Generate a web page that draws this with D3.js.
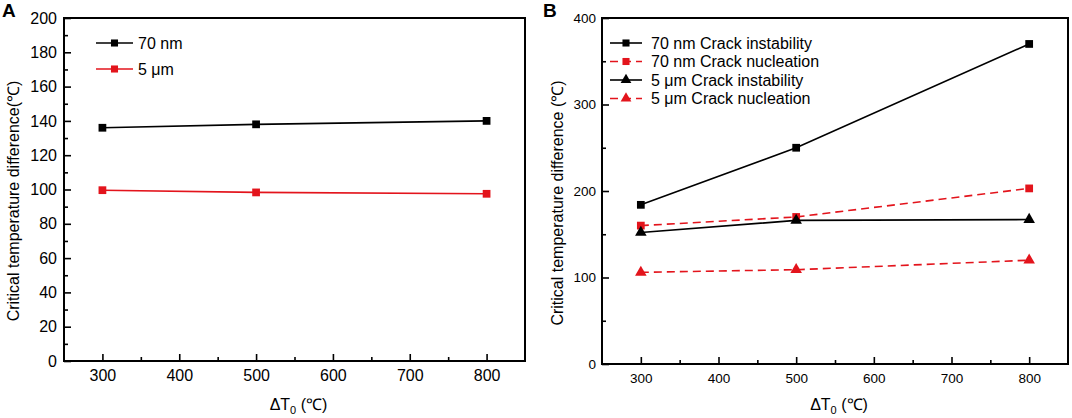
<!DOCTYPE html>
<html>
<head>
<meta charset="utf-8">
<script src="https://cdn.jsdelivr.net/npm/d3@7"></script>
<style>
  body { margin: 0; background: #fff; }
  svg { display: block; }
  text { font-family: Arial, "Liberation Sans", sans-serif; fill: #000; }
</style>
</head>
<body>
<div id="chart"></div>
<script>
// x positions shared by both panels
const deltaT0 = [300, 500, 800]
const xTicks = [300, 400, 500, 600, 700, 800]

// panel A
const a70nm = [136, 138, 140]
const a5um = [99.6, 98.3, 97.5]
const aYTicks = [0, 20, 40, 60, 80, 100, 120, 140, 160, 180, 200]

// panel B
const b70nmInstability = [184, 250, 370]
const b70nmNucleation = [160, 170, 203]
const b5umInstability = [152, 166, 167]
const b5umNucleation = [106, 109, 120]
const bYTicks = [0, 100, 200, 300, 400]

const RED = '#e3141c'
const BLACK = '#000'

const svg = d3.select('#chart')
    .append('svg')
    .attr('width', 1072)
    .attr('height', 418)
    .attr('viewBox', '0 0 1072 418')
    .attr('xmlns', 'http://www.w3.org/2000/svg')

function drawPanel(cfg) {
    const x = d3.scaleLinear().domain([250, 850]).range([cfg.left, cfg.right])
    const y = d3.scaleLinear().domain(cfg.yDomain).range([cfg.bottom, cfg.top])
    const g = svg.append('g')

    // minor ticks
    const xMinor = d3.range(250, 851, 50).filter(v => v % 100 !== 0 && v > 250 && v < 850)
    g.append('g')
        .attr('transform', `translate(0,${cfg.bottom})`)
        .call(d3.axisBottom(x).tickValues(xMinor).tickSize(-4).tickFormat(''))
        .call(s => s.select('.domain').remove())
        .selectAll('line').attr('stroke-width', 1.6)
    g.append('g')
        .attr('transform', `translate(${cfg.left},0)`)
        .call(d3.axisLeft(y).tickValues(cfg.yMinor).tickSize(-4).tickFormat(''))
        .call(s => s.select('.domain').remove())
        .selectAll('line').attr('stroke-width', 1.6)

    // major ticks
    const xAxis = g.append('g')
        .attr('transform', `translate(0,${cfg.bottom})`)
        .call(d3.axisBottom(x).tickValues(xTicks).tickSize(-7).tickPadding(9))
        .call(s => s.select('.domain').remove())
    xAxis.selectAll('line').attr('stroke-width', 1.6)
    xAxis.selectAll('text').style('font-size', cfg.tickFont + 'px').attr('fill', '#000')

    const yAxis = g.append('g')
        .attr('transform', `translate(${cfg.left},0)`)
        .call(d3.axisLeft(y).tickValues(cfg.yTicks).tickSize(-7).tickPadding(cfg.yPad))
        .call(s => s.select('.domain').remove())
    yAxis.selectAll('line').attr('stroke-width', 1.6)
    yAxis.selectAll('text').style('font-size', cfg.tickFont + 'px').attr('fill', '#000')

    // frame
    g.append('rect')
        .attr('x', cfg.left).attr('y', cfg.top)
        .attr('width', cfg.right - cfg.left).attr('height', cfg.bottom - cfg.top)
        .attr('fill', 'none').attr('stroke', '#000').attr('stroke-width', 2)

    // series
    const line = d3.line().x((d, i) => x(deltaT0[i])).y(d => y(d))
    cfg.series.forEach(s => {
        g.append('path')
            .datum(s.values)
            .attr('d', line)
            .attr('fill', 'none')
            .attr('stroke', s.color)
            .attr('stroke-width', 1.6)
            .attr('stroke-dasharray', s.dashed ? '8,5' : null)
        g.selectAll(null)
            .data(s.values)
            .enter()
            .append('path')
            .attr('d', d3.symbol().type(s.shape).size(s.shape === d3.symbolTriangle ? 58 : 60))
            .attr('transform', (d, i) => `translate(${x(deltaT0[i])},${y(d)})`)
            .attr('fill', s.color)
    })

    // legend
    const lg = g.append('g')
    cfg.series.forEach((s, i) => {
        const ly = cfg.legend.y + i * cfg.legend.step
        lg.append('line')
            .attr('x1', cfg.legend.x1).attr('x2', cfg.legend.x2)
            .attr('y1', ly).attr('y2', ly)
            .attr('stroke', s.color).attr('stroke-width', 1.6)
            .attr('stroke-dasharray', s.dashed ? '8,5' : null)
        lg.append('path')
            .attr('d', d3.symbol().type(s.shape).size(s.shape === d3.symbolTriangle ? 50 : 50))
            .attr('transform', `translate(${(cfg.legend.x1 + cfg.legend.x2) / 2},${ly})`)
            .attr('fill', s.color)
        lg.append('text')
            .attr('x', cfg.legend.tx).attr('y', ly).attr('dy', '0.36em')
            .style('font-size', '16px')
            .text(s.name)
    })

    // axis titles
    const xt = g.append('text')
        .attr('x', (cfg.left + cfg.right) / 2 + 4).attr('y', 410)
        .attr('text-anchor', 'middle')
        .style('font-size', '16px')
    xt.append('tspan').text('ΔT')
    xt.append('tspan').attr('dy', 4).style('font-size', '11px').text('0')
    xt.append('tspan').attr('dy', -4).text(' (℃)')

    g.append('text')
        .attr('transform', `translate(${cfg.yTitleX},${cfg.yTitleY}) rotate(-90)`)
        .attr('text-anchor', 'middle')
        .style('font-size', '16px')
        .text(cfg.yTitle)

    g.append('text')
        .attr('x', cfg.labelX).attr('y', 17)
        .style('font-size', '19px').style('font-weight', 'bold')
        .text(cfg.label)
}

drawPanel({
    label: 'A', labelX: 2,
    left: 64, right: 525, top: 18, bottom: 361,
    yDomain: [0, 200], yTicks: aYTicks, yMinor: d3.range(10, 200, 20),
    tickFont: 16, yPad: 7,
    yTitle: 'Critical temperature difference(℃)', yTitleX: 19, yTitleY: 201,
    legend: { x1: 96, x2: 133, tx: 138, y: 43, step: 26 },
    series: [
        { name: '70 nm', values: a70nm, color: BLACK, shape: d3.symbolSquare, dashed: false },
        { name: '5 μm', values: a5um, color: RED, shape: d3.symbolSquare, dashed: false }
    ]
})

drawPanel({
    label: 'B', labelX: 543,
    left: 602, right: 1068, top: 18, bottom: 364,
    yDomain: [0, 400], yTicks: bYTicks, yMinor: [50, 150, 250, 350],
    tickFont: 13.5, yPad: 6,
    yTitle: 'Critical temperature difference (℃)', yTitleX: 563, yTitleY: 203,
    legend: { x1: 610, x2: 642, tx: 651, y: 43, step: 18.5 },
    series: [
        { name: '70 nm Crack instability', values: b70nmInstability, color: BLACK, shape: d3.symbolSquare, dashed: false },
        { name: '70 nm Crack nucleation', values: b70nmNucleation, color: RED, shape: d3.symbolSquare, dashed: true },
        { name: '5 μm Crack instability', values: b5umInstability, color: BLACK, shape: d3.symbolTriangle, dashed: false },
        { name: '5 μm Crack nucleation', values: b5umNucleation, color: RED, shape: d3.symbolTriangle, dashed: true }
    ]
})
</script>
</body>
</html>
